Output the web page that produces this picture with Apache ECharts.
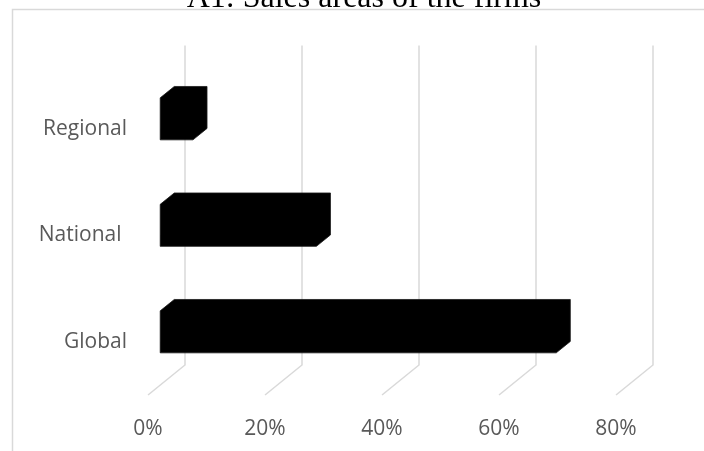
<!DOCTYPE html>
<html>
<head>
<meta charset="utf-8">
<script src="https://cdn.jsdelivr.net/npm/echarts@6/dist/echarts.min.js"></script>
<style>
  html, body { margin: 0; padding: 0; background: #fff; }
  #chart { width: 704px; height: 451px; }
</style>
</head>
<body>
<div id="chart"></div>
<script>
// Sales areas of the firms (share of firms, %)
const categories = ['Regional', 'National ', 'Global'];
const shares = [5.6, 26.7, 67.7];
const tickValues = [0, 20, 40, 60, 80];

// Depth of the 3D box (full wall depth in px) and where the bars sit in it
const DEPTH_X = 37, DEPTH_Y = -30;
const BAR_FRONT = 0.33, BAR_BACK = 0.71;
const BAR_THICKNESS = 0.394; // fraction of the category band

const chart = echarts.init(document.getElementById('chart'));

function renderGridLine(params, api) {
  const cs = params.coordSys;
  const x = api.coord([api.value(0), 0])[0];
  const bottom = cs.y + cs.height;
  return {
    type: 'polyline',
    shape: {
      points: [
        [x + DEPTH_X, cs.y + DEPTH_Y],
        [x + DEPTH_X, bottom + DEPTH_Y],
        [x, bottom]
      ]
    },
    style: { stroke: '#d9d9d9', lineWidth: 1.5, fill: null }
  };
}

function renderBar(params, api) {
  const v = api.value(0);
  const cat = api.value(1);
  const start = api.coord([0, cat]);
  const end = api.coord([v, cat]);
  const band = api.size([0, 1])[1];
  const h = band * BAR_THICKNESS;
  const fx = DEPTH_X * BAR_FRONT, fy = DEPTH_Y * BAR_FRONT;
  const bx = DEPTH_X * BAR_BACK, by = DEPTH_Y * BAR_BACK;
  const x0 = start[0], x1 = end[0];
  const top = start[1] - h / 2, bot = start[1] + h / 2;
  return {
    type: 'polygon',
    shape: {
      points: [
        [x0 + fx, bot + fy],
        [x0 + fx, top + fy],
        [x0 + bx, top + by],
        [x1 + bx, top + by],
        [x1 + bx, bot + by],
        [x1 + fx, bot + fy]
      ]
    },
    style: { fill: '#000000', stroke: '#1a1a1a', lineWidth: 0.8 }
  };
}

const option = {
  animation: false,
  backgroundColor: '#ffffff',
  title: {
    text: 'A1: Sales areas of the firms',
    left: 364,
    textAlign: 'center',
    top: -17,
    padding: 0,
    textStyle: {
      fontFamily: 'Liberation Serif',
      fontSize: 32,
      fontWeight: 'normal',
      color: '#000000'
    }
  },
  graphic: [{
    type: 'rect',
    silent: true,
    z: -10,
    shape: { x: 12.5, y: 9.5, width: 760, height: 500 },
    style: { fill: null, stroke: '#d9d9d9', lineWidth: 1.5 }
  }],
  grid: { left: 148, right: 88, top: 75.5, bottom: 56, containLabel: false },
  xAxis: {
    type: 'value',
    min: 0,
    max: 80,
    interval: 20,
    axisLine: { show: false },
    axisTick: { show: false },
    splitLine: { show: false },
    axisLabel: {
      formatter: '{value}%',
      margin: 24,
      fontFamily: 'Open Sans',
      fontSize: 21,
      color: '#595959'
    }
  },
  yAxis: {
    type: 'category',
    data: categories,
    inverse: true,
    axisLine: { show: false },
    axisTick: { show: false },
    splitLine: { show: false },
    axisLabel: {
      margin: 21,
      fontFamily: 'Open Sans',
      fontSize: 21,
      color: '#595959'
    }
  },
  series: [
    {
      type: 'custom',
      name: 'grid',
      silent: true,
      z: 1,
      renderItem: renderGridLine,
      encode: { x: 0 },
      data: tickValues.map(t => [t, 0])
    },
    {
      type: 'custom',
      name: 'Share of firms',
      z: 2,
      renderItem: renderBar,
      encode: { x: 0, y: 1 },
      data: shares.map((s, i) => [s, i])
    }
  ]
};

chart.setOption(option);
</script>
</body>
</html>
